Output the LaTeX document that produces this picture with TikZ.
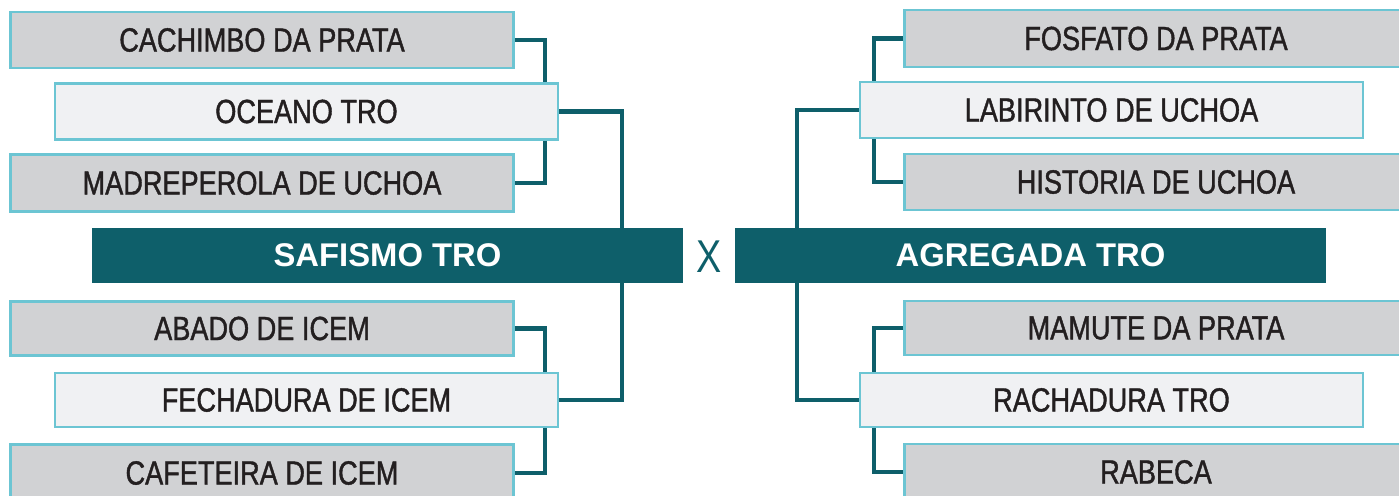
\documentclass[tikz,border=0pt]{standalone}
\usepackage{fontspec}
\setmainfont{Liberation Sans}
\newfontfamily\boxfont{Liberation Sans}[FakeStretch=0.81,FakeBold=1.2]
\newfontfamily\xfont{Liberation Sans}[FakeStretch=0.82]
\newfontfamily\titlefont{Liberation Sans}
\definecolor{teal}{HTML}{0E5F6A}
\definecolor{boxgray}{HTML}{D1D2D4}
\definecolor{boxlight}{HTML}{F0F1F3}
\definecolor{boxedge}{HTML}{6CC5D3}
\definecolor{ink}{HTML}{231F20}
\tikzset{
  entry/.style={rectangle, draw=boxedge, line width=2.5pt, inner sep=0pt,
    minimum width=503pt, text=ink, font=\boxfont\fontsize{33.5}{36}\selectfont},
  grayentry/.style={entry, fill=boxgray},
  lightentry/.style={entry, fill=boxlight},
  finalist/.style={rectangle, fill=teal, inner sep=0pt, minimum width=591pt,
    minimum height=55pt, text=white, font=\titlefont\bfseries\fontsize{32.8}{36}\selectfont},
  conn/.style={draw=teal, line width=4.5pt},
}
\begin{document}
\begin{tikzpicture}[x=1pt,y=-1pt]
\useasboundingbox (0,0) rectangle (1399,495);
\clip (0,0) rectangle (1399,495);
\coordinate (lx) at (545,0);
\coordinate (mx) at (622,0);
\coordinate (rx) at (874,0);
\coordinate (ax) at (797,0);

% left bracket
\node[grayentry, minimum height=56pt] (c1) at (262,40) {CACHIMBO DA PRATA};
\node[lightentry, minimum height=56pt] (c2) at (306.5,111.5) {OCEANO TRO};
\node[grayentry, minimum height=57pt] (c3) at (262,183) {MADREPEROLA DE UCHOA};
\node[grayentry, minimum height=54pt] (c4) at (262,328.5) {ABADO DE ICEM};
\node[lightentry, minimum height=54pt] (c5) at (306.5,400) {FECHADURA DE ICEM};
\node[grayentry, minimum height=57pt] (c6) at (262,473) {CAFETEIRA DE ICEM};

% finalists
\node[finalist] (s) at (387.5,255.5) {SAFISMO TRO};
\node[finalist] (a) at (1030.5,255.5) {AGREGADA TRO};
\node[text=teal, inner sep=0pt, font=\xfont\fontsize{46}{48}\selectfont] (x) at (709.5,256.5) {X};

% right bracket
\node[grayentry, minimum height=57pt] (r1) at (1156,38.5) {FOSFATO DA PRATA};
\node[lightentry, minimum height=56pt] (r2) at (1111.5,110) {LABIRINTO DE UCHOA};
\node[grayentry, minimum height=56pt] (r3) at (1156,182) {HISTORIA DE UCHOA};
\node[grayentry, minimum height=54pt] (r4) at (1156,328) {MAMUTE DA PRATA};
\node[lightentry, minimum height=54pt] (r5) at (1111.5,400) {RACHADURA TRO};
\node[grayentry, minimum height=56pt] (r6) at (1156,472) {RABECA};

% connectors left
\draw[conn] (c1.east) -| (c2.north -| lx);
\draw[conn] (c2.south -| lx) |- (c3.east);
\draw[conn] (c2.east) -| (s.north -| mx);
\draw[conn] (c4.east) -| (c5.north -| lx);
\draw[conn] (c5.south -| lx) |- (c6.east);
\draw[conn] (c5.east) -| (s.south -| mx);

% connectors right
\draw[conn] (r1.west) -| (r2.north -| rx);
\draw[conn] (r2.south -| rx) |- (r3.west);
\draw[conn] (r2.west) -| (a.north -| ax);
\draw[conn] (r4.west) -| (r5.north -| rx);
\draw[conn] (r5.south -| rx) |- (r6.west);
\draw[conn] (r5.west) -| (a.south -| ax);
\end{tikzpicture}
\end{document}
